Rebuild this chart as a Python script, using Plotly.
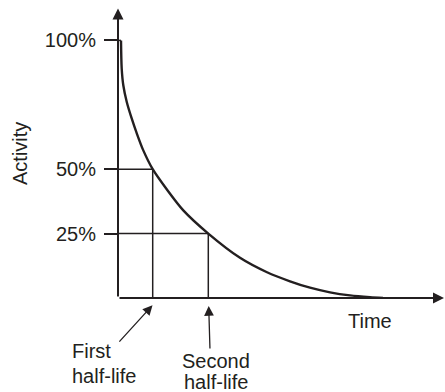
import plotly.graph_objects as go

# Radioactive decay: activity (% of initial) against time (arbitrary units)
decay_time = [0.30, 0.37, 0.53, 0.87, 1.37, 1.87, 2.53, 3.47, 4.87, 6.53,
              9.03, 12.2, 14.9, 17.2, 19.2, 21.2, 23.2, 25.2, 26.5]
decay_activity = [100, 89.1, 82.6, 76.2, 69.7, 64.0, 57.3, 50, 42.2, 34.0,
                  25, 15.6, 10.0, 6.5, 4.0, 2.2, 1.0, 0.3, 0]

# Guide levels and where the curve reaches them
guide_levels = [100, 50, 25]
guide_times = [0.30, 3.47, 9.03]
tick_text = ["100%", "50%", "25%"]

# Half-life markers (time at which activity halves, then halves again)
half_life_times = [3.47, 9.03]
half_life_levels = [50, 25]
half_life_labels = [("First", "half-life"), ("Second", "half-life")]

INK = "#231f20"
FONT = "Liberation Sans, Arial, Helvetica, sans-serif"
X_MAX = 32.7
Y_MAX = 111.8
M_L, M_R, M_T, M_B = 118, 0, 10, 94
W, H = 445, 392
PLOT_W = W - M_L - M_R
PLOT_H = H - M_T - M_B
PX_PER_T = PLOT_W / X_MAX
PX_PER_A = PLOT_H / Y_MAX


def px(t):
    """time value -> paper x"""
    return t / X_MAX


def py(a):
    """activity value -> paper y"""
    return a / Y_MAX


fig = go.Figure()

fig.add_trace(go.Scatter(
    x=decay_time, y=decay_activity, mode="lines",
    line=dict(color=INK, width=2.4, shape="spline", smoothing=0.8),
    hoverinfo="skip", showlegend=False,
))

# Horizontal guides from the axis to the curve
for lvl, t in zip(guide_levels, guide_times):
    fig.add_shape(type="line", x0=0, x1=t, y0=lvl, y1=lvl,
                  line=dict(color=INK, width=1.5))

# Vertical drops at each half-life
for lvl, t in zip(half_life_levels, half_life_times):
    fig.add_shape(type="line", x0=t, x1=t, y0=0, y1=lvl,
                  line=dict(color=INK, width=1.5))


def arrow(tail, tip, width, size):
    (tx, ta), (hx, ha) = tail, tip
    fig.add_annotation(
        x=px(hx), y=py(ha), xref="paper", yref="paper",
        ax=(tx - hx) * PX_PER_T, ay=-(ta - ha) * PX_PER_A,
        text="", showarrow=True, arrowhead=2, arrowsize=size,
        arrowwidth=width, arrowcolor=INK, standoff=0, startstandoff=0,
    )


# Axes drawn as arrows
arrow((0, 0), (0, 112.4), 2, 1.1)
arrow((0, 0), (32.65, 0), 2, 1.1)

# Half-life pointers
arrow((0.0, -17.5), (3.45, -2.8), 1.3, 1.5)
arrow((9.2, -20.2), (9.07, -3.1), 1.3, 1.5)


def label(t, a, text, **kw):
    fig.add_annotation(x=px(t), y=py(a), xref="paper", yref="paper",
                       text=text, showarrow=False,
                       font=dict(family=FONT, size=20, color=INK), **kw)


# Two-line captions under the time axis (set line by line for tighter leading)
first_line_a = [-20.7, -30.3]
second_line_a = [-24.4, -32.6]
for line_text, a in zip(half_life_labels[0], first_line_a):
    label(-4.8, a, line_text, xanchor="left", yanchor="middle")
for line_text, a in zip(half_life_labels[1], second_line_a):
    label(9.8, a, line_text, xanchor="center", yanchor="middle")

# Axis titles
label(25.2, -9.0, "Time", xanchor="center", yanchor="middle")
label(-9.8, 55.9, "Activity", textangle=-90, xanchor="center", yanchor="middle")

fig.update_xaxes(range=[0, X_MAX], showgrid=False, zeroline=False,
                 showline=False, showticklabels=False, ticks="")
fig.update_yaxes(range=[0, Y_MAX], showgrid=False, zeroline=False,
                 showline=False, tickvals=guide_levels, ticktext=tick_text,
                 ticks="outside", ticklen=13, tickwidth=1.5, tickcolor=INK,
                 ticklabelstandoff=4,
                 tickfont=dict(family=FONT, size=20, color=INK))

fig.update_layout(
    width=W, height=H,
    margin=dict(l=M_L, r=M_R, t=M_T, b=M_B),
    paper_bgcolor="white", plot_bgcolor="white",
)

fig.write_html("out.html")
